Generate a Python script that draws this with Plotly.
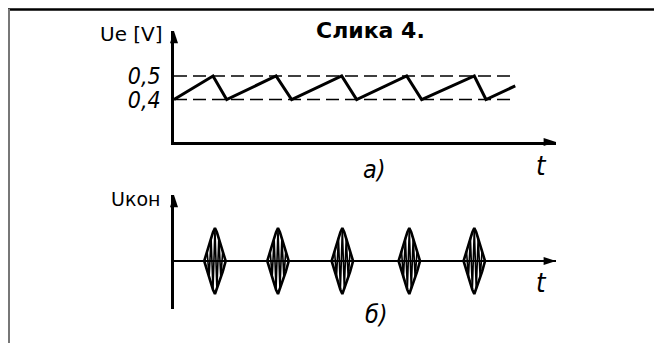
import plotly.graph_objects as go

# the page puts the plot 8 px in from the top-left corner of the window
OFF = 8
W, H = 662 - OFF, 343 - OFF

# a) Ue sawtooth (time in periods, voltage in V)
saw_t = [0.0, 0.60, 0.81, 1.57, 1.81, 2.58, 2.81, 3.58, 3.81, 4.62, 4.80, 5.25]
saw_v = [0.40, 0.50, 0.40, 0.50, 0.40, 0.50, 0.40, 0.50, 0.40, 0.50, 0.40, 0.458]
ref_levels = [0.4, 0.5]
ref_end = 5.22
ue_ticks = [0.4, 0.5]
ue_ticktext = ["0,4", "0,5"]

# б) Uкон bursts: centres and the shape of one burst (offsets / relative amplitude)
burst_t = [0.63, 1.60, 2.59, 3.62, 4.62]
env_dx = [-0.165, -0.12, -0.07, -0.03, 0.0, 0.03, 0.07, 0.12, 0.165]
env_dy = [0.0, 0.32, 0.62, 0.87, 1.0, 0.87, 0.62, 0.32, 0.0]
osc_dx = [-0.12, -0.09, -0.06, -0.03, 0.0, 0.03, 0.06, 0.09, 0.12]
osc_dy = [0.3, -0.5, 0.7, -0.85, 0.95, -0.85, 0.7, -0.5, 0.3]

T_MAX = (556 - 174) / 65
UE_LO, UE_HI = 0.4 - (142 - 99.5) / 235, 0.5 + (76 - 31) / 235
UK_LO, UK_HI = -(309 - 261) / 33, (261 - 195) / 33


def px(x):
    return (x - OFF) / W


def py(y):
    return 1 - (y - OFF) / H


HAND = "DejaVu Sans Condensed, DejaVu Sans"

fig = go.Figure()

# top panel
for lvl in ref_levels:
    fig.add_trace(go.Scatter(x=[0, ref_end], y=[lvl, lvl], mode="lines",
                             line=dict(color="black", width=1.6, dash="13px,6px"),
                             xaxis="x", yaxis="y"))
fig.add_trace(go.Scatter(x=saw_t, y=saw_v, mode="lines",
                         line=dict(color="black", width=3), xaxis="x", yaxis="y"))

# bottom panel: envelope outlines and inner oscillation of every burst
env_x, env_y, osc_x, osc_y = [], [], [], []
for c in burst_t:
    env_x += [c + d for d in env_dx] + [c + d for d in env_dx[::-1]] + [None]
    env_y += env_dy + [-v for v in env_dy[::-1]] + [None]
    osc_x += [c + d for d in osc_dx] + [None]
    osc_y += osc_dy + [None]
fig.add_trace(go.Scatter(x=osc_x, y=osc_y, mode="lines",
                         line=dict(color="black", width=1.6), xaxis="x2", yaxis="y2"))
fig.add_trace(go.Scatter(x=env_x, y=env_y, mode="lines",
                         line=dict(color="black", width=2.6), xaxis="x2", yaxis="y2"))

# arrow heads at axis ends
fig.add_trace(go.Scatter(x=[0, T_MAX], y=[UE_HI, UE_LO], mode="markers", cliponaxis=False,
                         marker=dict(symbol="arrow", angle=[0, 90], size=13, color="black"),
                         xaxis="x", yaxis="y"))
fig.add_trace(go.Scatter(x=[0, T_MAX], y=[UK_HI, 0], mode="markers", cliponaxis=False,
                         marker=dict(symbol="arrow", angle=[0, 90], size=13, color="black"),
                         xaxis="x2", yaxis="y2"))

x_dom = [px(174), px(556)]
common_x = dict(domain=x_dom, range=[0, T_MAX], showgrid=False, zeroline=False,
                showticklabels=False, ticks="")
fig.update_layout(
    width=W, height=H,
    margin=dict(l=0, r=0, t=0, b=0),
    paper_bgcolor="white", plot_bgcolor="white",
    showlegend=False,
    xaxis=dict(**common_x, anchor="y", showline=True, linecolor="black", linewidth=2.5),
    yaxis=dict(domain=[py(142), py(31)], range=[UE_LO, UE_HI], anchor="x",
               showline=True, linecolor="black", linewidth=2.5, showgrid=False, zeroline=False,
               tickvals=ue_ticks, ticktext=ue_ticktext, ticks="", ticklabelstandoff=6,
               tickfont=dict(family=HAND, size=23, style="italic", color="black")),
    xaxis2=dict(**common_x, anchor="y2", showline=False),
    yaxis2=dict(domain=[py(309), py(195)], range=[UK_LO, UK_HI], anchor="x2",
                showline=True, linecolor="black", linewidth=2.5, showgrid=False,
                zeroline=True, zerolinecolor="black", zerolinewidth=2,
                showticklabels=False, ticks=""),
)

labels = [
    ("Ue [V]", 131, 34, dict(family="DejaVu Sans", size=20)),
    ("Слика 4.", 370, 30, dict(family="DejaVu Sans", size=22, weight="bold")),
    ("а)", 374, 169, dict(family=HAND, size=25, style="italic")),
    ("t", 541, 165, dict(family=HAND, size=27, style="italic")),
    ("Uкон", 135, 199, dict(family="DejaVu Sans", size=19)),
    ("t", 541, 282, dict(family=HAND, size=27, style="italic")),
    ("б)", 377, 314, dict(family=HAND, size=25, style="italic")),
]
for text, x, y, font in labels:
    fig.add_annotation(text=text, x=px(x), y=py(y), xref="paper", yref="paper",
                       showarrow=False, xanchor="center", yanchor="middle",
                       font=dict(color="black", **font))

# frame of the scanned figure
fig.add_shape(type="line", xref="paper", yref="paper", x0=0, x1=1, y0=py(9.5), y1=py(9.5),
              line=dict(color="black", width=2.5))
fig.add_shape(type="line", xref="paper", yref="paper", x0=px(9), x1=px(9), y0=py(9), y1=0,
              line=dict(color="#777777", width=2))

fig.write_html("out.html")
